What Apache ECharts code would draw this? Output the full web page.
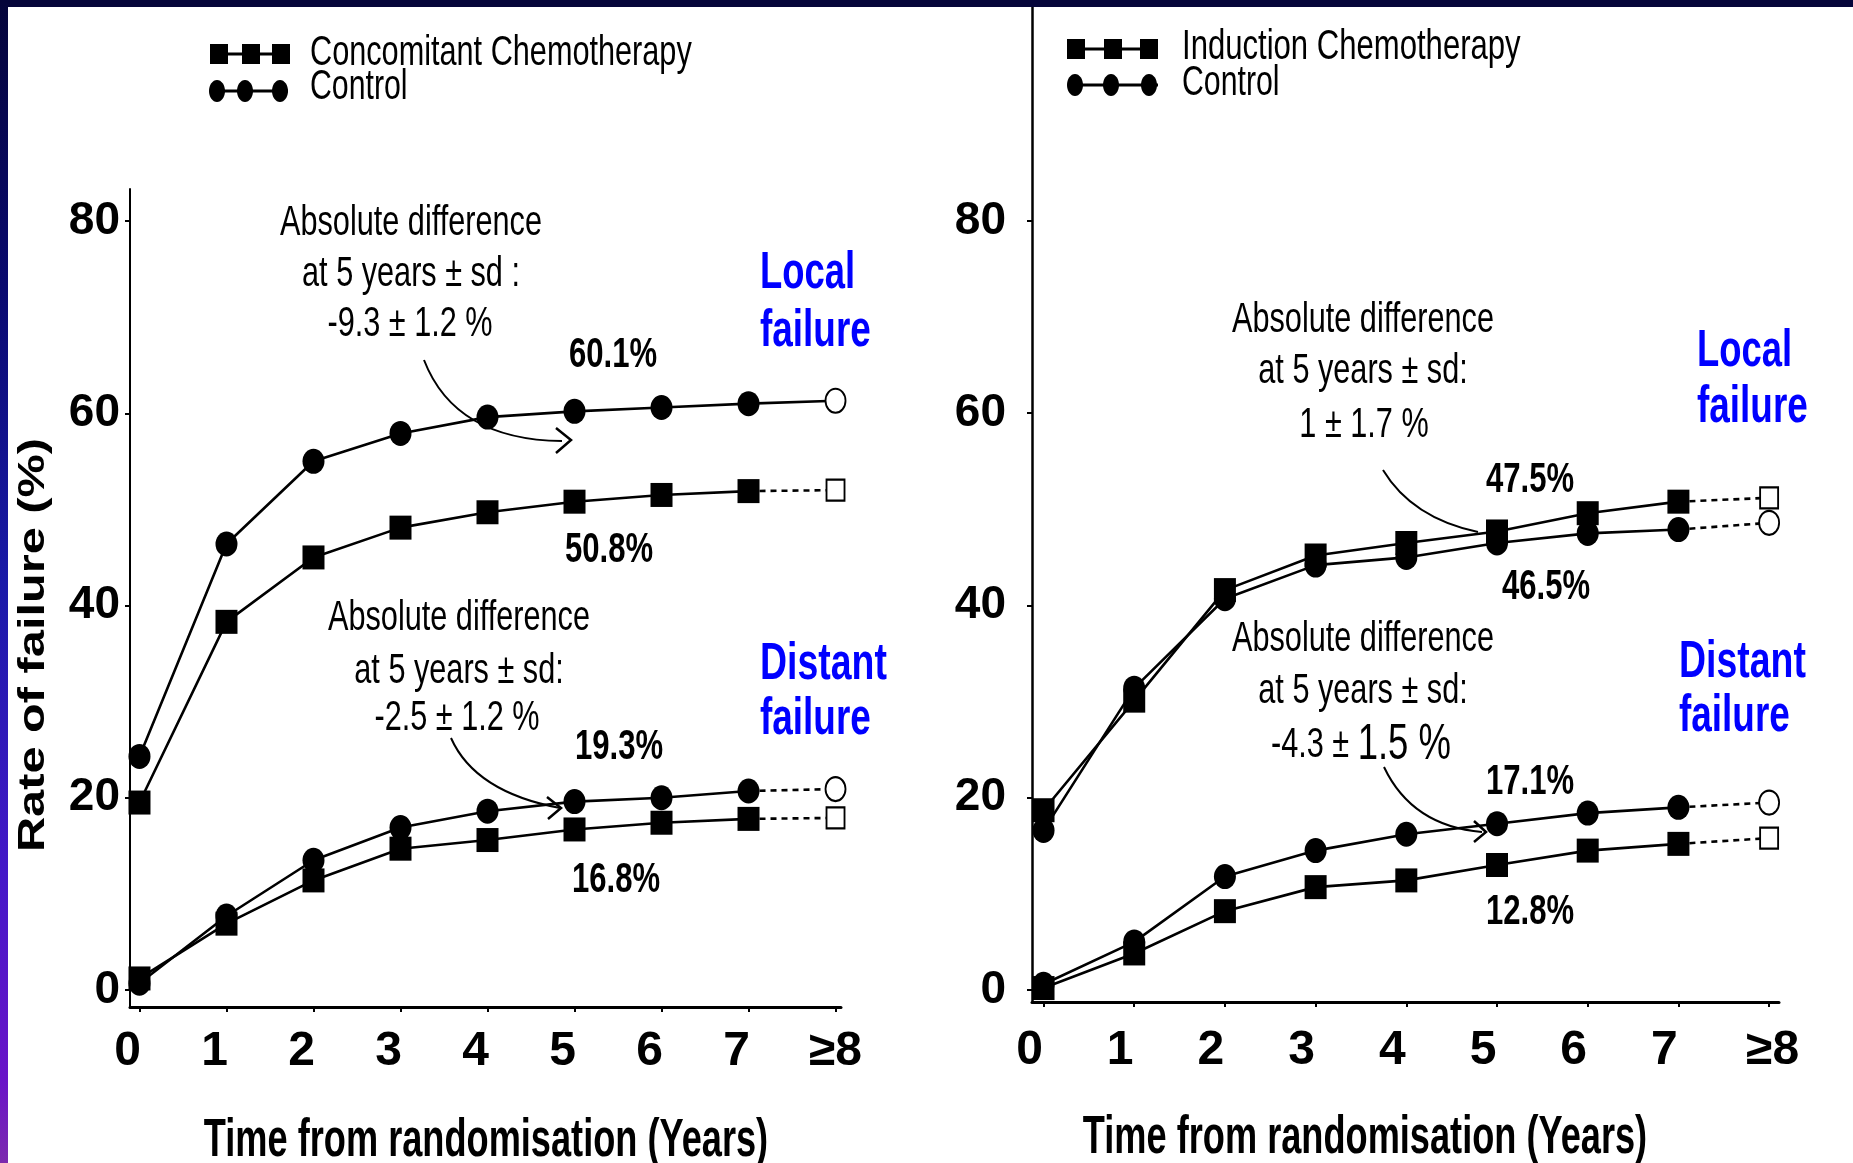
<!DOCTYPE html>
<html>
<head>
<meta charset="utf-8">
<script src="https://cdn.jsdelivr.net/npm/echarts@6/dist/echarts.min.js"></script>
<style>
html,body{margin:0;padding:0;background:#fff;}
#c{width:1853px;height:1163px;}
</style>
</head>
<body>
<div id="c"></div>
<script>
// ---------------- data ----------------
const years = [0, 1, 2, 3, 4, 5, 6, 7, 8];
const xTickLabels = ['0', '1', '2', '3', '4', '5', '6', '7', '≥8'];
const yTicks = [0, 20, 40, 60, 80];

// left panel: concomitant chemotherapy vs control
const concLocal    = [19.5, 38.3, 45.0, 48.1, 49.7, 50.8, 51.5, 51.9, 52.0];
const ctrlLocalL   = [24.3, 46.4, 55.0, 57.9, 59.6, 60.2, 60.6, 61.0, 61.3];
const concDistant  = [1.2, 6.9, 11.4, 14.7, 15.6, 16.7, 17.4, 17.8, 17.9];
const ctrlDistantL = [0.7, 7.7, 13.5, 16.9, 18.6, 19.6, 20.0, 20.7, 20.9];

// right panel: induction chemotherapy vs control
const indLocal     = [18.7, 30.1, 41.6, 45.2, 46.5, 47.7, 49.6, 50.8, 51.2];
const ctrlLocalR   = [16.6, 31.4, 40.7, 44.2, 45.0, 46.5, 47.5, 47.9, 48.6];
const indDistant   = [0.2, 3.8, 8.2, 10.7, 11.4, 13.0, 14.5, 15.2, 15.8];
const ctrlDistantR = [0.6, 5.0, 11.8, 14.5, 16.2, 17.3, 18.4, 19.0, 19.5];

const legendLeft  = ['Concomitant Chemotherapy', 'Control'];
const legendRight = ['Induction Chemotherapy', 'Control'];

// ---------------- styles ----------------
const SANS = "'Liberation Sans',Arial,sans-serif";

function curve(name, vals, axis, shape, tailDashed) {
  const isC = shape === 'circle';
  const main = {
    type: 'line', name: name, xAxisIndex: axis, yAxisIndex: axis,
    data: years.slice(0, 8).map((x, i) => [x, vals[i]]),
    symbol: isC ? 'circle' : 'rect',
    symbolSize: isC ? [22, 25] : [22, 24],
    showAllSymbol: true,
    lineStyle: { color: '#000', width: 2.6 },
    itemStyle: { color: '#000' },
    z: 4, silent: true
  };
  const tail = {
    type: 'line', name: name, xAxisIndex: axis, yAxisIndex: axis,
    data: [
      { value: [years[7], vals[7]], symbol: 'none' },
      { value: [years[8], vals[8]] }
    ],
    symbol: isC ? 'emptyCircle' : 'emptyRect',
    symbolSize: isC ? [20, 24] : [18, 21],
    showAllSymbol: true,
    lineStyle: { color: '#000', width: 2.6, type: tailDashed ? [6, 5] : 'solid' },
    itemStyle: { color: '#000', borderWidth: 2 },
    z: 3, silent: true
  };
  return [main, tail];
}

function xAx(idx, min, max, shiftDigits, shiftGe, margin) {
  return {
    type: 'value', gridIndex: idx, min: min, max: max,
    axisLine: { show: true, onZero: false, lineStyle: { color: '#000', width: 3 } },
    axisTick: { show: true, customValues: years, length: 5, lineStyle: { color: '#000', width: 2 } },
    axisLabel: {
      show: true, customValues: years, margin: margin,
      formatter: function (v) {
        const i = years.indexOf(v);
        if (i < 0) return '';
        return (i === 8 ? '{g|' : '{d|') + xTickLabels[i] + '}';
      },
      rich: {
        d: { fontFamily: SANS, fontWeight: 'bold', fontSize: 48, color: '#000', padding: [0, shiftDigits, 0, 0] },
        g: { fontFamily: SANS, fontWeight: 'bold', fontSize: 48, color: '#000', padding: [0, 0, 0, shiftGe] }
      }
    },
    splitLine: { show: false }
  };
}

function yAx(idx, min, max, margin, lw) {
  return {
    type: 'value', gridIndex: idx, min: min, max: max,
    axisLine: { show: true, onZero: false, lineStyle: { color: '#000', width: lw } },
    axisTick: { show: true, customValues: yTicks, length: 5, lineStyle: { color: '#000', width: 2 } },
    axisLabel: {
      show: true, customValues: yTicks, margin: margin,
      fontFamily: SANS, fontWeight: 'bold', fontSize: 46, color: '#000'
    },
    splitLine: { show: false }
  };
}

function txt(text, x, y, size, bold, color, sx, align) {
  return {
    type: 'text', x: x, y: y, scaleX: sx, scaleY: 1, silent: true, z: 10,
    style: {
      text: text, x: 0, y: 0, fill: color || '#000',
      fontFamily: SANS, fontSize: size, fontWeight: bold ? 'bold' : 'normal',
      align: align || 'center', verticalAlign: 'middle'
    }
  };
}

function arrow(sx, sy, cx, cy, ex, ey, head) {
  const els = [{
    type: 'bezierCurve', silent: true, z: 1,
    shape: { x1: sx, y1: sy, cpx1: cx, cpy1: cy, x2: ex, y2: ey },
    style: { stroke: '#000', lineWidth: 2, fill: null }
  }];
  if (head) {
    els.push({
      type: 'polyline', silent: true, z: 1,
      shape: { points: head },
      style: { stroke: '#000', lineWidth: 2.5, fill: null }
    });
  }
  return els;
}

function legendBlock(x0, x1, ySq, yCi, sqXs, ciXs, tx, tyA, tyB, labels, sxA, sxB) {
  const els = [];
  els.push({ type: 'line', silent: true, shape: { x1: x0, y1: ySq, x2: x1, y2: ySq }, style: { stroke: '#000', lineWidth: 3 } });
  sqXs.forEach(cx => els.push({ type: 'rect', silent: true, shape: { x: cx - 9, y: ySq - 10, width: 18, height: 20 }, style: { fill: '#000' } }));
  els.push({ type: 'line', silent: true, shape: { x1: x0, y1: yCi, x2: x1, y2: yCi }, style: { stroke: '#000', lineWidth: 3 } });
  ciXs.forEach(cx => els.push({ type: 'ellipse', silent: true, shape: { cx: cx, cy: yCi, rx: 8, ry: 11 }, style: { fill: '#000' } }));
  els.push(txt(labels[0], tx, tyA, 42, false, '#000', sxA, 'left'));
  els.push(txt(labels[1], tx, tyB, 42, false, '#000', sxB, 'left'));
  return els;
}

const series = [].concat(
  curve('Concomitant Chemotherapy', concLocal, 0, 'rect', true),
  curve('Control', ctrlLocalL, 0, 'circle', false),
  curve('Concomitant Chemotherapy', concDistant, 0, 'rect', true),
  curve('Control', ctrlDistantL, 0, 'circle', true),
  curve('Induction Chemotherapy', indLocal, 1, 'rect', true),
  curve('Control', ctrlLocalR, 1, 'circle', true),
  curve('Induction Chemotherapy', indDistant, 1, 'rect', true),
  curve('Control', ctrlDistantR, 1, 'circle', true)
);

const BLUE = '#0000ff';
const yTitle = txt('Rate of failure (%)', 34, 645, 42, true, '#000', 1.16, 'center');
yTitle.rotation = Math.PI / 2;
yTitle.scaleY = 0.86;

const graphics = [].concat(
  [
    { type: 'rect', silent: true, z: 20, shape: { x: 0, y: 0, width: 1853, height: 7 }, style: { fill: '#05053a' } },
    { type: 'rect', silent: true, z: 20, shape: { x: 0, y: 0, width: 8, height: 1163 },
      style: { fill: new echarts.graphic.LinearGradient(0, 0, 0, 1, [
        { offset: 0, color: '#05053a' }, { offset: 0.25, color: '#0a0a70' },
        { offset: 0.5, color: '#1a1aa8' }, { offset: 0.75, color: '#4418c8' },
        { offset: 0.93, color: '#6a14c8' }, { offset: 1, color: '#7c2aae' }]) } }
  ],
  legendBlock(212, 288, 54, 91, [219, 251, 281], [217, 245, 280], 310, 53, 87, legendLeft, 0.73, 0.72),
  legendBlock(1068, 1158, 49, 85, [1076, 1113, 1149], [1075, 1111, 1149], 1182, 47, 83, legendRight, 0.74, 0.72),
  [
    yTitle,
    txt('Time from randomisation (Years)', 486, 1141, 54, true, '#000', 0.67, 'center'),
    txt('Time from randomisation (Years)', 1365, 1138, 54, true, '#000', 0.67, 'center'),

    // left panel annotations
    txt('Absolute difference', 411, 223, 42, false, '#000', 0.73),
    txt('at 5 years ± sd :', 411, 274, 42, false, '#000', 0.73),
    txt('-9.3 ± 1.2 %', 410, 324, 42, false, '#000', 0.73),
    txt('60.1%', 613, 355, 42, true, '#000', 0.74),
    txt('50.8%', 609, 550, 42, true, '#000', 0.74),
    txt('Local', 760, 274, 52, true, BLUE, 0.7, 'left'),
    txt('failure', 760, 332, 52, true, BLUE, 0.71, 'left'),
    txt('Absolute difference', 459, 618, 42, false, '#000', 0.73),
    txt('at 5 years ± sd:', 459, 671, 42, false, '#000', 0.73),
    txt('-2.5 ± 1.2 %', 457, 718, 42, false, '#000', 0.73),
    txt('19.3%', 619, 747, 42, true, '#000', 0.74),
    txt('16.8%', 616, 880, 42, true, '#000', 0.74),
    txt('Distant', 760, 665, 52, true, BLUE, 0.72, 'left'),
    txt('failure', 760, 720, 52, true, BLUE, 0.71, 'left'),

    // right panel annotations
    txt('Absolute difference', 1363, 320, 42, false, '#000', 0.73),
    txt('at 5 years ± sd:', 1363, 371, 42, false, '#000', 0.73),
    txt('1 ± 1.7 %', 1364, 425, 42, false, '#000', 0.73),
    txt('47.5%', 1530, 480, 42, true, '#000', 0.74),
    txt('46.5%', 1546, 587, 42, true, '#000', 0.74),
    txt('Local', 1697, 352, 52, true, BLUE, 0.7, 'left'),
    txt('failure', 1697, 408, 52, true, BLUE, 0.71, 'left'),
    txt('Absolute difference', 1363, 639, 42, false, '#000', 0.73),
    txt('at 5 years ± sd:', 1363, 691, 42, false, '#000', 0.73),
    {
      type: 'text', x: 1361, y: 745, scaleX: 0.73, silent: true, z: 10,
      style: {
        text: '{a|-4.3 ± }{b|1.5 %}', x: 0, y: 0, align: 'center', verticalAlign: 'middle',
        rich: {
          a: { fontFamily: SANS, fontSize: 42, fill: '#000' },
          b: { fontFamily: SANS, fontSize: 50, fill: '#000' }
        }
      }
    },
    txt('17.1%', 1530, 782, 42, true, '#000', 0.74),
    txt('12.8%', 1530, 912, 42, true, '#000', 0.74),
    txt('Distant', 1679, 663, 52, true, BLUE, 0.72, 'left'),
    txt('failure', 1679, 717, 52, true, BLUE, 0.71, 'left')
  ],
  arrow(424, 360, 455, 440, 562, 441, [[556, 428], [571, 440], [556, 453]]),
  arrow(451, 738, 475, 792, 560, 808, [[547, 797], [561, 808], [548, 819]]),
  arrow(1383, 470, 1412, 518, 1478, 532, null),
  arrow(1384, 767, 1412, 826, 1482, 832, [[1474, 821], [1486, 832], [1474, 842]])
);

const option = {
  animation: false,
  backgroundColor: '#ffffff',
  textStyle: { fontFamily: SANS },
  grid: [
    { left: 130, top: 189, width: 711, height: 818, containLabel: false },
    { left: 1032, top: 7, width: 747, height: 995, containLabel: false }
  ],
  xAxis: [
    xAx(0, -0.109, 8.063, 24, 0, 21),
    xAx(1, -0.127, 8.109, 28, 7, 25)
  ],
  yAxis: [
    yAx(0, -1.77, 83.33, 10, 2),
    yAx(1, -1.25, 102.26, 26, 2.5)
  ],
  series: series,
  graphic: { elements: graphics }
};

const chart = echarts.init(document.getElementById('c'), null, { renderer: 'canvas' });
chart.setOption(option);
</script>
</body>
</html>
